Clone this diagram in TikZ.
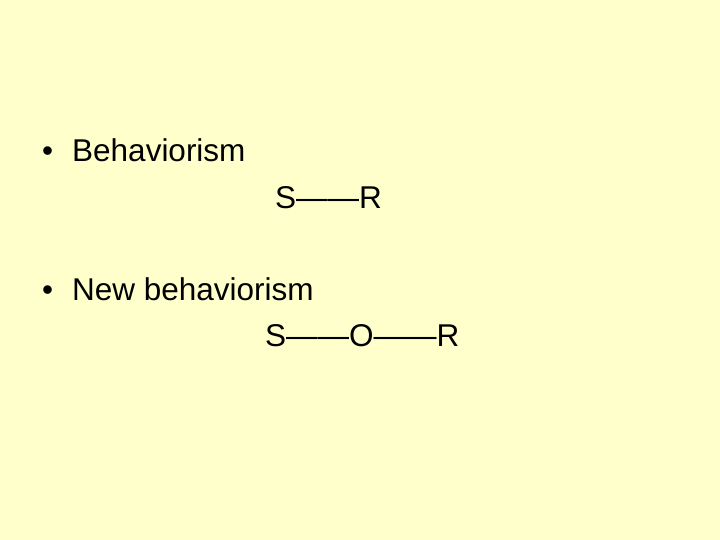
\documentclass[tikz,border=0pt]{standalone}
\usepackage{fontspec}
\setmainfont{Liberation Sans}
\definecolor{slidebg}{RGB}{255,255,204}
\begin{document}
\begin{tikzpicture}[x=1pt,y=-1pt,
  txt/.style={anchor=base west,inner sep=0pt,font=\fontsize{31.5}{36}\selectfont}]
\fill[slidebg] (0,0) rectangle (720,540);
\useasboundingbox (0,0) rectangle (720,540);
\node[txt] (b1) at (42,162) {\textbullet};
\node[txt] (t1) at (72,162) {Behaviorism};
\node[txt] (f1) at (275,208) {S——R};
\node[txt] (b2) at (42,300) {\textbullet};
\node[txt] (t2) at (72,300) {New behaviorism};
\node[txt] (f2) at (265,346) {S——O——R};
\end{tikzpicture}
\end{document}
